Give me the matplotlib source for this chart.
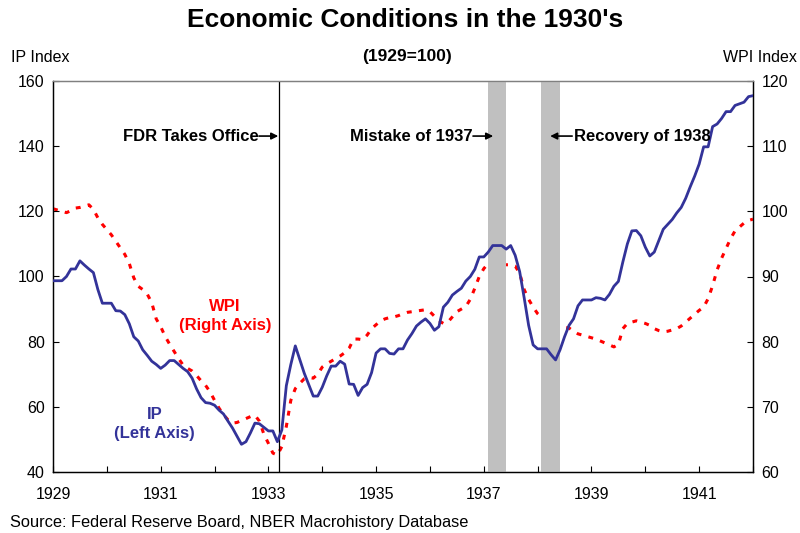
import matplotlib
matplotlib.use("Agg")
import matplotlib.pyplot as plt
import numpy as np

plt.rcParams['font.family'] = ['Liberation Sans', 'DejaVu Sans']

# Monthly data, Jan 1929 onward (month index 0 = Jan 1929)
ip = [98.7, 98.7, 98.7, 100.0, 102.3, 102.3, 104.8, 103.5, 102.3, 101.2,
      96.0, 91.8, 91.8, 91.8, 89.5, 89.4, 88.3, 85.5, 81.5, 80.2,
      77.5, 75.8, 74.0, 73.0, 71.8, 72.8, 74.2, 74.2, 73.0, 71.8,
      70.8, 68.8, 65.5, 62.8, 61.3, 61.1, 60.5, 59.0, 57.8, 55.6,
      53.5, 51.0, 48.5, 49.3, 52.0, 55.0, 54.8, 53.7, 52.6, 52.6,
      49.3, 52.9, 66.5, 73.0, 78.7, 74.5, 70.3, 66.8, 63.3, 63.3,
      66.0, 69.5, 72.5, 72.5, 74.0, 73.1, 67.0, 66.9, 63.5, 65.9,
      66.9, 70.5, 76.5, 77.8, 77.8, 76.4, 76.2, 77.8, 77.8, 80.5,
      82.5, 84.8, 86.0, 87.0, 85.6, 83.5, 84.6, 90.6, 92.1, 94.3,
      95.4, 96.4, 98.6, 100.0, 102.2, 106.0, 106.0, 107.5, 109.5, 109.5,
      109.5, 108.4, 109.5, 106.5, 101.5, 93.5, 85.0, 79.0, 77.8, 77.8,
      77.8, 76.0, 74.4, 77.5, 81.5, 85.0, 87.0, 91.0, 92.8, 92.8,
      92.8, 93.5, 93.3, 92.8, 94.5, 97.0, 98.5, 104.5, 110.0, 114.0,
      114.1, 112.5, 109.0, 106.3, 107.5, 111.0, 114.5, 116.0, 117.5, 119.5,
      121.2, 124.0, 127.5, 130.8, 134.5, 139.8, 139.8, 146.0, 146.8, 148.5,
      150.6, 150.6, 152.5, 153.0, 153.5, 155.2, 155.5]

wpi = [100.4, 100.2, 100.0, 99.8, 100.1, 100.5, 100.6, 100.8, 101.0, 100.3,
       99.0, 98.0, 97.2, 96.4, 95.4, 94.4, 93.4, 92.0, 89.8, 88.5,
       88.0, 87.3, 86.0, 83.5, 82.3, 80.8, 79.6, 78.5, 77.4, 76.4,
       75.9, 75.5, 74.8, 74.0, 73.3, 72.3, 71.0, 69.8, 68.8, 68.0,
       67.5, 67.6, 67.9, 68.2, 68.5, 68.7, 67.8, 65.8, 64.4, 62.9,
       62.6, 63.9, 67.0, 71.0, 72.8, 73.6, 74.3, 74.5, 74.4, 75.0,
       76.1, 76.6, 77.0, 77.4, 77.8, 78.3, 79.0, 80.4, 80.4, 80.3,
       81.0, 82.0, 82.6, 83.2, 83.5, 83.7, 83.8, 84.0, 84.3, 84.5,
       84.6, 84.7, 84.8, 84.9, 84.6, 83.9, 83.2, 82.8, 83.0, 83.8,
       84.6, 85.0, 85.4, 86.5, 88.2, 90.0, 91.2, 92.0, 92.1, 92.0,
       91.8, 91.8, 91.8, 91.6, 90.5, 88.0, 86.5, 85.3, 84.3, 83.7,
       83.2, 82.8, 82.5, 82.3, 82.2, 82.1, 81.6, 81.2, 81.0, 80.8,
       80.6, 80.4, 80.1, 79.8, 79.5, 79.2, 79.6, 82.0, 82.8, 83.0,
       83.2, 83.0, 82.8, 82.5, 82.0, 81.7, 81.5, 81.6, 81.8, 82.0,
       82.4, 83.0, 83.6, 84.2, 84.8, 85.3, 86.6, 88.6, 91.0, 92.8,
       94.3, 95.8, 97.0, 97.6, 98.2, 98.6, 98.8]

year_labels = ['1929', '', '1931', '', '1933', '', '1935', '', '1937', '', '1939', '', '1941', '']

# events (in month index from Jan 1929)
fdr_month = 50.4
shade_spans = [(96.9, 101.0), (108.8, 113.0)]

x = np.arange(len(ip))

fig = plt.figure(figsize=(8, 5.33), dpi=100)
ax = fig.add_axes([53/800, 1-472/533, 700/800, 391/533])
ax2 = ax.twinx()

for a, b in shade_spans:
    ax.axvspan(a, b, color='#C0C0C0', lw=0, zorder=0)
ax.axvline(fdr_month, color='black', lw=0.9, zorder=1)

ax.plot(x, ip, color='#333399', lw=2.0, zorder=3, solid_joinstyle='round')
ax2.plot(x, wpi, color='#FF0000', lw=2.2, linestyle=(0, (1.6, 2.4)), zorder=3,
         dash_capstyle='butt')

ax.set_xlim(0, len(ip) - 1)
ax.set_ylim(40, 160)
ax2.set_ylim(60, 120)
ax.set_yticks(np.arange(40, 161, 20))
ax2.set_yticks(np.arange(60, 121, 10))
ax.set_xticks(np.arange(0, len(ip), 12))
ax.set_xticklabels(year_labels[:len(np.arange(0, len(ip), 12))])

for a in (ax, ax2):
    a.tick_params(direction='in', length=4, width=0.8, labelsize=11.5, color='black')
    for s in a.spines.values():
        s.set_linewidth(0.9)
        s.set_color('black')
ax.spines['top'].set_color('#808080')
ax2.spines['top'].set_color('#808080')
ax.tick_params(axis='x', pad=11)
ax.tick_params(axis='y', pad=6)
ax2.tick_params(axis='y', pad=6)
ax.set_zorder(ax2.get_zorder() + 1)
ax.patch.set_visible(False)

# annotations
ya = 143.1
ax.annotate('', xy=(fdr_month - 0.2, ya), xytext=(45.9, ya),
            arrowprops=dict(arrowstyle='-|>', color='black', lw=1.2, mutation_scale=10,
                            shrinkA=0, shrinkB=0))
ax.text(45.8, ya, 'FDR Takes Office', ha='right', va='center', fontsize=12, fontweight='bold')
ax.annotate('', xy=(98.1, ya), xytext=(93.6, ya),
            arrowprops=dict(arrowstyle='-|>', color='black', lw=1.2, mutation_scale=10,
                            shrinkA=0, shrinkB=0))
ax.text(93.5, ya, 'Mistake of 1937', ha='right', va='center', fontsize=12, fontweight='bold')
ax.annotate('', xy=(110.8, ya), xytext=(115.7, ya),
            arrowprops=dict(arrowstyle='-|>', color='black', lw=1.2, mutation_scale=10,
                            shrinkA=0, shrinkB=0))
ax.text(116.0, ya, 'Recovery of 1938', ha='left', va='center', fontsize=12, fontweight='bold')

ax.text(38.3, 87.9, 'WPI\n(Right Axis)', ha='center', va='center', fontsize=12,
        fontweight='bold', color='#FF0000', linespacing=1.35)
ax.text(22.7, 54.7, 'IP\n(Left Axis)', ha='center', va='center', fontsize=12,
        fontweight='bold', color='#333399', linespacing=1.35)

fig.text(405/800, 1-20/533, "Economic Conditions in the 1930's", ha='center', va='center',
         fontsize=19, fontweight='bold')
fig.text(407/800, 1-57/533, '(1929=100)', ha='center', va='center', fontsize=12.5, fontweight='bold')
fig.text(11/800, 1-57/533, 'IP Index', ha='left', va='center', fontsize=11.5)
fig.text(797/800, 1-57/533, 'WPI Index', ha='right', va='center', fontsize=11.5)
fig.text(10/800, 1-523/533, 'Source: Federal Reserve Board, NBER Macrohistory Database',
         ha='left', va='center', fontsize=11.8)

fig.savefig('out.png', dpi=100)
